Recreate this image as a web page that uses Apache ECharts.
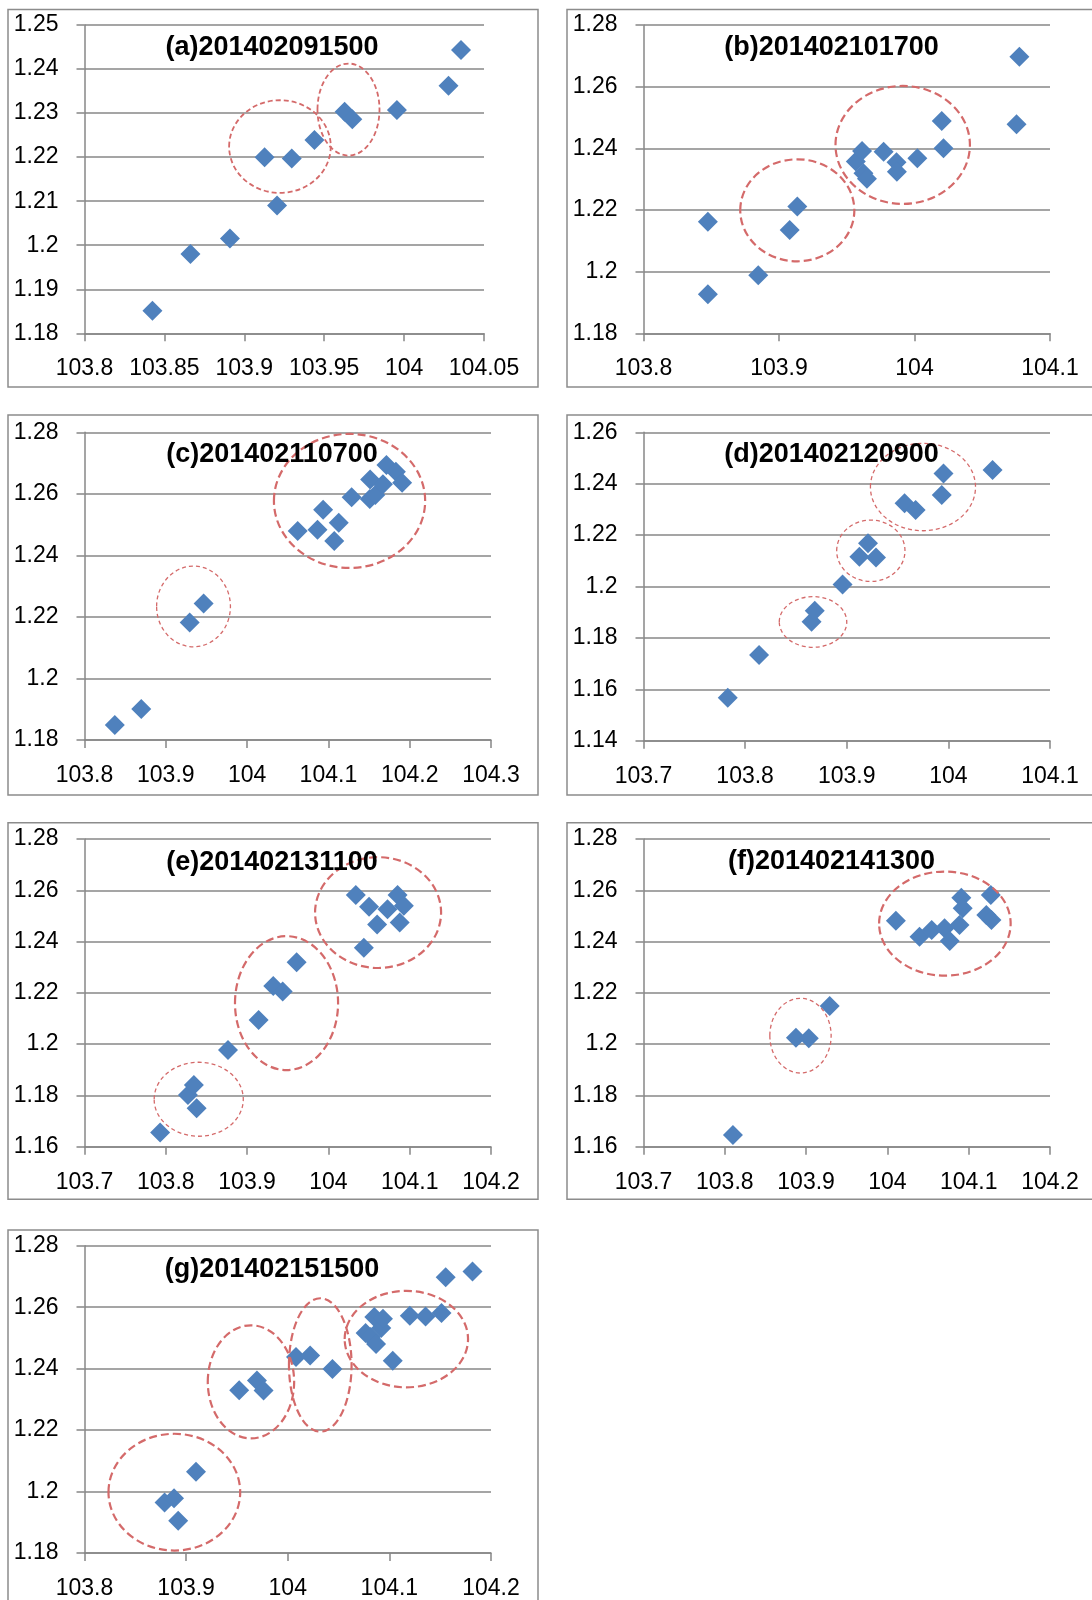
<!DOCTYPE html>
<html><head><meta charset="utf-8">
<script src="https://cdn.jsdelivr.net/npm/echarts@6/dist/echarts.min.js"></script>
<style>html,body{margin:0;padding:0;background:#fff}#c{width:1092px;height:1600px}</style>
</head><body><div id="c"></div>
<script>
// ---- data (longitude, latitude) ----
const titles = ['(a)201402091500','(b)201402101700','(c)201402110700','(d)201402120900','(e)201402131100','(f)201402141300','(g)201402151500'];

const lonA = [103.8425,103.8663,103.891,103.9127,103.9297,103.9205,103.9439,103.9628,103.9676,103.9955,104.0278,104.0356];
const latA = [1.1851,1.198,1.2015,1.220,1.2197,1.209,1.2239,1.2303,1.2286,1.2307,1.2362,1.2443];

const lonB = [103.8475,103.8475,103.8847,103.9079,103.9135,103.9567,103.9613,103.9623,103.9649,103.9772,103.9867,103.987,104.0021,104.0201,104.0214,104.0753,104.0774];
const latB = [1.2162,1.1927,1.1988,1.2135,1.2211,1.2357,1.2391,1.2319,1.2301,1.2389,1.2355,1.2324,1.2368,1.2489,1.24,1.2478,1.2697];

const lonC = [103.8373,103.8698,103.9294,103.9465,104.0622,104.0866,104.0935,104.1072,104.1127,104.1286,104.1513,104.1509,104.1577,104.1671,104.1714,104.183,104.1907];
const latC = [1.1849,1.1901,1.2182,1.2244,1.2479,1.2483,1.2548,1.2447,1.2506,1.2589,1.2647,1.2583,1.2596,1.2631,1.2694,1.2672,1.2636];

const lonD = [103.7829,103.8137,103.8654,103.8685,103.8959,103.9124,103.9209,103.9288,103.9569,103.9678,103.9935,103.9952,104.0435];
const latD = [1.1567,1.1733,1.1863,1.1906,1.2008,1.2116,1.2168,1.2113,1.2324,1.2298,1.2356,1.244,1.2453];

const lonE = [103.793,103.8272,103.8345,103.8379,103.8765,103.9142,103.9322,103.9438,103.9609,104.0337,104.0436,104.05,104.0599,104.0727,104.0851,104.0928,104.0877];
const latE = [1.1655,1.1802,1.1841,1.175,1.1977,1.2094,1.2227,1.2205,1.2319,1.2582,1.2376,1.2536,1.2467,1.2526,1.2582,1.254,1.2474];

const lonF = [103.81,103.8875,103.9033,103.929,104.0104,104.0395,104.0545,104.0703,104.0767,104.0887,104.0909,104.0926,104.1217,104.1272,104.128];
const latF = [1.1646,1.2025,1.2023,1.2149,1.2481,1.2419,1.2445,1.2452,1.2402,1.2465,1.2571,1.253,1.2504,1.2582,1.2484];

const lonG = [103.8788,103.8881,103.8922,103.9097,103.9522,103.9697,103.9762,104.0081,104.022,104.044,104.0766,104.0817,104.0852,104.0869,104.092,104.0937,104.1033,104.1201,104.1356,104.1513,104.1554,104.1818];
const latG = [1.1964,1.1978,1.1905,1.2064,1.233,1.2361,1.2329,1.2438,1.2443,1.2399,1.2516,1.2503,1.2568,1.248,1.2532,1.2562,1.2426,1.2572,1.257,1.2581,1.2697,1.2716];

// axis ranges: [xmin, xmax, xstep, ymin, ymax, ystep]
const axesA = [103.8, 104.05, 0.05, 1.18, 1.25, 0.01];
const axesB = [103.8, 104.1, 0.1, 1.18, 1.28, 0.02];
const axesC = [103.8, 104.3, 0.1, 1.18, 1.28, 0.02];
const axesD = [103.7, 104.1, 0.1, 1.14, 1.26, 0.02];
const axesE = [103.7, 104.2, 0.1, 1.16, 1.28, 0.02];
const axesF = [103.7, 104.2, 0.1, 1.16, 1.28, 0.02];
const axesG = [103.8, 104.2, 0.1, 1.18, 1.28, 0.02];

// dashed cluster ellipses (annotations): [cx, cy, rx, ry, styleIndex]
const ellA = [[103.9223,1.2224,0.0318,0.01052,1],[103.9652,1.2308,0.0194,0.01045,1]];
const ellB = [[103.9135,1.2199,0.0421,0.01654,2],[103.9913,1.2411,0.0496,0.01913,2]];
const ellC = [[103.9341,1.2234,0.0454,0.01311,0],[104.126,1.2577,0.093,0.02178,2]];
const ellD = [[103.8668,1.1862,0.0332,0.00986,0],[103.9237,1.2139,0.0336,0.01194,0],[103.975,1.2387,0.0517,0.017,0]];
const ellE = [[103.8405,1.1785,0.0548,0.01443,0],[103.9485,1.216,0.0634,0.0261,2],[104.0611,1.2513,0.0775,0.0216,2]];
const ellF = [[103.8931,1.2033,0.0377,0.01456,0],[104.0707,1.247,0.0809,0.0203,2]];
const ellG = [[103.8884,1.1998,0.0648,0.019,2],[103.9638,1.2357,0.0425,0.0184,2],[104.032,1.2412,0.0308,0.0217,2],[104.1167,1.2496,0.0607,0.0157,2]];

// ---- layout ----
const panels = [
  {lon:lonA, lat:latA, ax:axesA, ell:ellA, grid:[84.5,25,399.5,308.3], frame:[8,9.5,530,377.5], t:[272,48]},
  {lon:lonB, lat:latB, ax:axesB, ell:ellB, grid:[643.5,25,406.5,308.3], frame:[567,9.5,530,377.5], t:[831.5,48]},
  {lon:lonC, lat:latC, ax:axesC, ell:ellC, grid:[84.5,432.3,406.5,307.7], frame:[8,415,530,380], t:[272,455]},
  {lon:lonD, lat:latD, ax:axesD, ell:ellD, grid:[643.5,432.3,406.5,308.4], frame:[567,415,530,380], t:[831.5,455]},
  {lon:lonE, lat:latE, ax:axesE, ell:ellE, grid:[84.5,839,406.5,307.7], frame:[8,822.7,530,376.6], t:[272,863]},
  {lon:lonF, lat:latF, ax:axesF, ell:ellF, grid:[643.5,839,406.5,307.7], frame:[567,822.7,530,376.6], t:[831.5,862]},
  {lon:lonG, lat:latG, ax:axesG, ell:ellG, grid:[84.5,1245.7,406.5,308.3], frame:[8,1230,530,400], t:[272,1270]}
];

const ELL_STYLES = [{w:1.3, d:[4,3]}, {w:1.8, d:[5,3]}, {w:2.2, d:[8,4]}];
const GRAY = '#878787';
const FONT = '"Liberation Sans", Arial, sans-serif';
const fmt = v => String(Number(v.toFixed(4)));

const grid = [], xAxis = [], yAxis = [], series = [], graphic = [];
panels.forEach((p, i) => {
  grid.push({left:p.grid[0], top:p.grid[1], width:p.grid[2], height:p.grid[3], containLabel:false});
  xAxis.push({
    gridIndex:i, type:'value', min:p.ax[0], max:p.ax[1], interval:p.ax[2],
    axisLine:{show:true, onZero:false, lineStyle:{color:GRAY, width:1.5}},
    axisTick:{show:true, inside:false, length:8, lineStyle:{color:GRAY, width:1.5}},
    axisLabel:{margin:24, fontSize:23, color:'#000', fontFamily:FONT, formatter:fmt, showMinLabel:true, showMaxLabel:true},
    splitLine:{show:false}
  });
  yAxis.push({
    gridIndex:i, type:'value', min:p.ax[3], max:p.ax[4], interval:p.ax[5],
    axisLine:{show:true, onZero:false, lineStyle:{color:GRAY, width:1.5}},
    axisTick:{show:true, inside:false, length:8, lineStyle:{color:GRAY, width:1.5}},
    axisLabel:{margin:26, fontSize:23, color:'#000', fontFamily:FONT, formatter:fmt, showMinLabel:true, showMaxLabel:true},
    splitLine:{show:true, lineStyle:{color:GRAY, width:1.5}}
  });
  series.push({
    type:'scatter', xAxisIndex:i, yAxisIndex:i,
    data:p.lon.map((x, k) => [x, p.lat[k]]),
    symbol:'diamond', symbolSize:20,
    itemStyle:{color:'#4F81BD', opacity:1}, z:3, silent:true
  });
  series.push({
    type:'custom', xAxisIndex:i, yAxisIndex:i, data:p.ell, clip:false, silent:true, z:5,
    renderItem:function(params, api){
      const c = api.coord([api.value(0), api.value(1)]);
      const s = api.size([api.value(2), api.value(3)]);
      const st = ELL_STYLES[api.value(4)];
      return {type:'ellipse', shape:{cx:c[0], cy:c[1], rx:s[0], ry:s[1]},
        style:{fill:'none', stroke:'#D46A6A', lineWidth:st.w, lineDash:st.d}};
    }
  });
  graphic.push({type:'rect', silent:true, z:-1,
    shape:{x:p.frame[0], y:p.frame[1], width:p.frame[2], height:p.frame[3]},
    style:{fill:'none', stroke:'#8c8c8c', lineWidth:1.5}});
  graphic.push({type:'text', silent:true, z:10, x:p.t[0], y:p.t[1],
    style:{text:titles[i], fill:'#000', fontSize:27, fontWeight:'bold', fontFamily:FONT, align:'center', verticalAlign:'middle'}});
});

const chart = echarts.init(document.getElementById('c'), null, {renderer:'canvas'});
chart.setOption({backgroundColor:'#fff', animation:false, grid, xAxis, yAxis, series, graphic});
</script></body></html>
